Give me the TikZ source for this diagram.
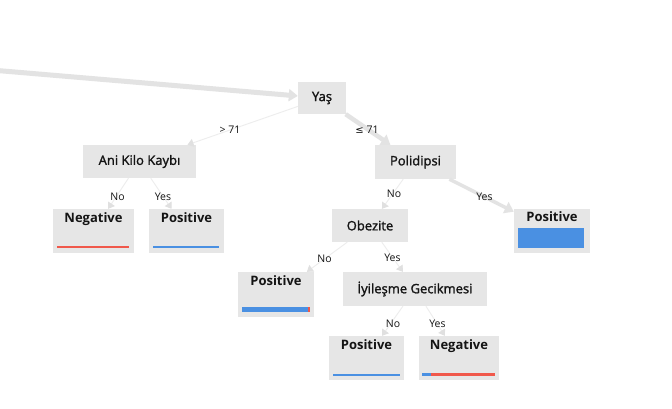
\documentclass[tikz,border=0pt]{standalone}
\usepackage{fontspec}
\setmainfont{Open Sans}
\newfontfamily\semib[FakeBold=1.6]{Open Sans}
\newfontfamily\symfnt{DejaVu Sans}
\usetikzlibrary{arrows.meta}
\definecolor{boxgray}{HTML}{E6E6E6}
\definecolor{edgegray}{HTML}{E3E3E3}
\definecolor{thingray}{HTML}{EDEDED}
\definecolor{arrowgray}{HTML}{E0E0E0}
\definecolor{barblue}{HTML}{4A90E2}
\definecolor{barred}{HTML}{F0584B}
\definecolor{txt}{HTML}{141414}
\begin{document}
\begin{tikzpicture}[x=1pt,y=-1pt,
  innerbox/.style={fill=boxgray, draw=none, inner sep=0pt, text=txt,
    font=\semib\fontsize{13}{15}\selectfont},
  leafbox/.style={fill=boxgray, draw=none, inner sep=0pt,
    minimum width=#1, minimum height=44pt},
  leaftitle/.style={font=\fontsize{13}{15}\selectfont\bfseries, text=txt,
    anchor=base, inner sep=0pt},
  elabel/.style={font=\fontsize{10.5}{12}\selectfont, text=txt, inner sep=0pt},
  thinedge/.style={draw=thingray, line width=0.9pt,
    -{Triangle[width=8pt,length=6pt,fill=arrowgray,color=arrowgray]}},
  thickedge/.style={draw=edgegray, line width=#1,
    -{Triangle[width=12pt,length=9pt,fill=edgegray,color=edgegray]}},
]
\clip (0,0) rectangle (672,409);
\fill[white] (0,0) rectangle (672,409);

% internal nodes
\node[innerbox, minimum width=48pt, minimum height=32pt] (yas) at (322,98) {Yaş};
\node[innerbox, minimum width=113pt, minimum height=33pt] (ani) at (139.5,161.5) {Ani Kilo Kaybı};
\node[innerbox, minimum width=81pt, minimum height=34pt] (poli) at (415.5,162) {Polidipsi};
\node[innerbox, minimum width=76pt, minimum height=33pt] (obez) at (370,225.5) {Obezite};
\node[innerbox, minimum width=144pt, minimum height=34pt] (iyi) at (415,289) {İyileşme Gecikmesi};

% leaves
\node[leafbox=81pt] (neg1) at (93.5,231) {};
\node[leafbox=75pt] (pos1) at (186.5,231) {};
\node[leafbox=76pt] (pos2) at (552,231) {};
\node[leafbox=76pt, minimum height=45pt] (pos3) at (276,294.5) {};
\node[leafbox=75pt] (pos4) at (366.5,358) {};
\node[leafbox=80pt] (neg2) at (459,358) {};

\node[leaftitle] (tneg1) at ([yshift=-13.5pt]neg1.north) {Negative};
\node[leaftitle] (tpos1) at ([yshift=-13.5pt]pos1.north) {Positive};
\node[leaftitle] (tpos2) at ([yshift=-13pt]pos2.north) {Positive};
\node[leaftitle] (tpos3) at ([yshift=-13.5pt]pos3.north) {Positive};
\node[leaftitle] (tpos4) at ([yshift=-13.5pt]pos4.north) {Positive};
\node[leaftitle] (tneg2) at ([yshift=-13.5pt]neg2.north) {Negative};

% bars
\fill[barred] (57,246) rectangle (129,248.2);
\fill[barblue] (153,246) rectangle (219,248.2);
\fill[barblue] (518,228) rectangle (584,248);
\fill[barblue] (242,306.7) rectangle (307.5,312);
\fill[barred] (307.5,306.7) rectangle (310,312);
\fill[barblue] (333,373.5) rectangle (400,375.7);
\fill[barblue] (422,373.3) rectangle (431,375.7);
\fill[barred] (431,373.3) rectangle (495,375.7);

% edges
\coordinate (src) at (-4,70.4);
\draw[thickedge=5pt] (src) -- (yas);
\draw[thinedge] (yas) -- (ani);
\draw[thickedge=4.5pt] (yas) -- (poli);
\draw[thinedge] (ani) -- (neg1);
\draw[thinedge] (ani) -- (pos1);
\draw[thinedge] (poli) -- (obez);
\draw[thickedge=3.5pt] (poli) -- (pos2);
\draw[thinedge] (obez) -- (pos3);
\draw[thinedge] (obez) -- (iyi);
\draw[thinedge] (iyi) -- (pos4);
\draw[thinedge] (iyi) -- (neg2);

% edge labels
\node[elabel] (l1) at (230,130) {> 71};
\node[elabel] (l2) at (367,130) {{\symfnt\fontsize{10}{12}\selectfont ≤} 71};
\node[elabel] (l3) at (117.5,197) {No};
\node[elabel] (l4) at (163,197) {Yes};
\node[elabel] (l5) at (394,194) {No};
\node[elabel] (l6) at (484.5,197) {Yes};
\node[elabel] (l7) at (324.5,259) {No};
\node[elabel] (l8) at (392.5,258) {Yes};
\node[elabel] (l9) at (393,324) {No};
\node[elabel] (l10) at (437.5,324) {Yes};
\end{tikzpicture}
\end{document}
